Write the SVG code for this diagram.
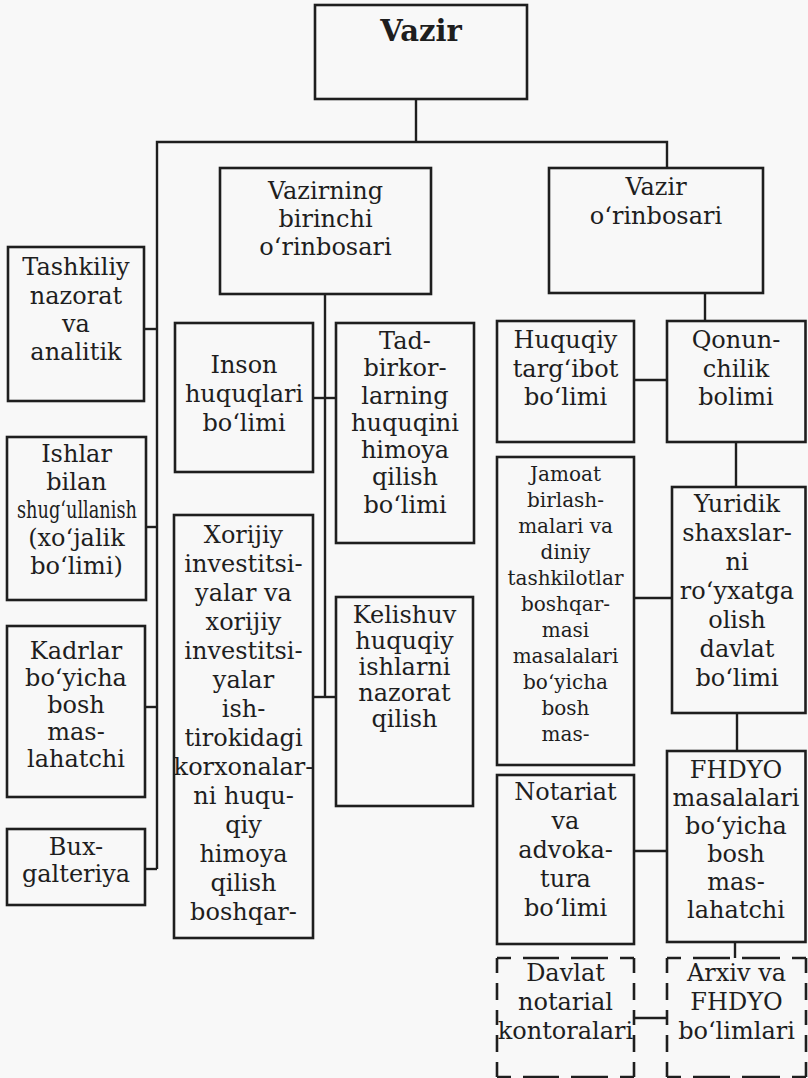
<svg xmlns="http://www.w3.org/2000/svg" width="808" height="1078" viewBox="0 0 808 1078">
  <style>
    .box { fill: none; stroke: #1e1e1e; stroke-width: 2.6; }
    .dash { fill: none; stroke: #1e1e1e; stroke-width: 2.6; }
    .conn { fill: none; stroke: #1e1e1e; stroke-width: 2.4; }
    text { font-family: "DejaVu Serif", "Liberation Serif", serif; font-size: 24px; fill: #1e1e1e; text-anchor: middle; }
    .small { font-size: 20px; }
    .head { font-weight: bold; font-size: 29px; }
  </style>
  <rect width="808" height="1078" fill="#f8f8f8"/>

  <!-- connectors -->
  <g id="connectors" class="conn">
    <path d="M416 99 V142"/>
    <path d="M157 869 V142 H667 V168"/>
    <path d="M145 869 H157"/>
    <path d="M144 329 H157"/>
    <path d="M146 527 H157"/>
    <path d="M145 707 H157"/>
    <path d="M325 294 V697"/>
    <path d="M313 398 H336"/>
    <path d="M313 697 H336"/>
    <path d="M705 293 V321"/>
    <path d="M634 380 H667"/>
    <path d="M736 442 V487"/>
    <path d="M634 598 H672"/>
    <path d="M737 713 V751"/>
    <path d="M634 851 H667"/>
    <path d="M735 942 V958"/>
    <path d="M634 1018 H667"/>
  </g>

  <!-- top level -->
  <g id="vazir">
    <rect class="box" x="315" y="5" width="212" height="94"/>
    <text class="head" x="421" y="41">Vazir</text>
  </g>

  <g id="birinchi-orinbosar">
    <rect class="box" x="220" y="168" width="211" height="126"/>
    <text x="325.5"><tspan x="325.5" y="199">Vazirning</tspan><tspan x="325.5" y="227">birinchi</tspan><tspan x="325.5" y="255">o‘rinbosari</tspan></text>
  </g>

  <g id="orinbosar">
    <rect class="box" x="549" y="168" width="214" height="125"/>
    <text x="656"><tspan x="656" y="195">Vazir</tspan><tspan x="656" y="224">o‘rinbosari</tspan></text>
  </g>

  <!-- left column -->
  <g id="tashkiliy">
    <rect class="box" x="8" y="247" width="136" height="154"/>
    <text x="76"><tspan x="76" y="275">Tashkiliy</tspan><tspan x="76" y="304">nazorat</tspan><tspan x="76" y="332">va</tspan><tspan x="76" y="360">analitik</tspan></text>
  </g>

  <g id="ishlar">
    <rect class="box" x="7" y="437" width="139" height="163"/>
    <text x="76.5"><tspan x="76.5" y="462">Ishlar</tspan><tspan x="76.5" y="490">bilan</tspan><tspan x="77" y="518" textLength="120" lengthAdjust="spacingAndGlyphs">shug‘ullanish</tspan><tspan x="76.5" y="546">(xo‘jalik</tspan><tspan x="76.5" y="574">bo‘limi)</tspan></text>
  </g>

  <g id="kadrlar">
    <rect class="box" x="7" y="626" width="138" height="171"/>
    <text x="76"><tspan x="76" y="659">Kadrlar</tspan><tspan x="76" y="686">bo‘yicha</tspan><tspan x="76" y="713">bosh</tspan><tspan x="76" y="740">mas-</tspan><tspan x="76" y="767">lahatchi</tspan></text>
  </g>

  <g id="buxgalteriya">
    <rect class="box" x="7" y="829" width="138" height="76"/>
    <text x="76"><tspan x="76" y="855">Bux-</tspan><tspan x="76" y="882">galteriya</tspan></text>
  </g>

  <!-- first deputy's branch -->
  <g id="inson">
    <rect class="box" x="175" y="323" width="138" height="149"/>
    <text x="244"><tspan x="244" y="373">Inson</tspan><tspan x="244" y="402">huquqlari</tspan><tspan x="244" y="431">bo‘limi</tspan></text>
  </g>

  <g id="xorijiy">
    <rect class="box" x="174" y="515" width="139" height="423"/>
    <text x="243.5"><tspan x="243.5" y="543">Xorijiy</tspan><tspan x="243.5" y="572">investitsi-</tspan><tspan x="243.5" y="601">yalar va</tspan><tspan x="243.5" y="630">xorijiy</tspan><tspan x="243.5" y="659">investitsi-</tspan><tspan x="243.5" y="688">yalar</tspan><tspan x="243.5" y="717">ish-</tspan><tspan x="243.5" y="746">tirokidagi</tspan><tspan x="243.5" y="775">korxonalar-</tspan><tspan x="243.5" y="804">ni huqu-</tspan><tspan x="243.5" y="833">qiy</tspan><tspan x="243.5" y="862">himoya</tspan><tspan x="243.5" y="891">qilish</tspan><tspan x="243.5" y="920">boshqar-</tspan></text>
  </g>

  <g id="tadbirkor">
    <rect class="box" x="336" y="323" width="138" height="220"/>
    <text x="405"><tspan x="405" y="349">Tad-</tspan><tspan x="405" y="376">birkor-</tspan><tspan x="405" y="404">larning</tspan><tspan x="405" y="431">huquqini</tspan><tspan x="405" y="458">himoya</tspan><tspan x="405" y="485">qilish</tspan><tspan x="405" y="513">bo‘limi</tspan></text>
  </g>

  <g id="kelishuv">
    <rect class="box" x="336" y="597" width="137" height="209"/>
    <text x="404.5"><tspan x="404.5" y="623">Kelishuv</tspan><tspan x="404.5" y="649">huquqiy</tspan><tspan x="404.5" y="675">ishlarni</tspan><tspan x="404.5" y="701">nazorat</tspan><tspan x="404.5" y="727">qilish</tspan></text>
  </g>

  <!-- deputy's branch -->
  <g id="huquqiy-targibot">
    <rect class="box" x="497" y="321" width="137" height="121"/>
    <text x="565.5"><tspan x="565.5" y="348">Huquqiy</tspan><tspan x="565.5" y="377">targ‘ibot</tspan><tspan x="565.5" y="405">bo‘limi</tspan></text>
  </g>

  <g id="qonunchilik">
    <rect class="box" x="667" y="321" width="138.5" height="121"/>
    <text x="736"><tspan x="736" y="348">Qonun-</tspan><tspan x="736" y="377">chilik</tspan><tspan x="736" y="405">bolimi</tspan></text>
  </g>

  <g id="jamoat">
    <rect class="box" x="497" y="457" width="137" height="308"/>
    <text class="small" x="565.5"><tspan x="565.5" y="481">Jamoat</tspan><tspan x="565.5" y="507">birlash-</tspan><tspan x="565.5" y="533">malari va</tspan><tspan x="565.5" y="559">diniy</tspan><tspan x="565.5" y="585">tashkilotlar</tspan><tspan x="565.5" y="611">boshqar-</tspan><tspan x="565.5" y="637">masi</tspan><tspan x="565.5" y="663">masalalari</tspan><tspan x="565.5" y="689">bo‘yicha</tspan><tspan x="565.5" y="715">bosh</tspan><tspan x="565.5" y="741">mas-</tspan></text>
  </g>

  <g id="yuridik">
    <rect class="box" x="672" y="487" width="133.5" height="226"/>
    <text x="737"><tspan x="737" y="512">Yuridik</tspan><tspan x="737" y="541">shaxslar-</tspan><tspan x="737" y="570">ni</tspan><tspan x="737" y="599">ro‘yxatga</tspan><tspan x="737" y="628">olish</tspan><tspan x="737" y="657">davlat</tspan><tspan x="737" y="686">bo‘limi</tspan></text>
  </g>

  <g id="notariat">
    <rect class="box" x="497" y="775" width="137" height="169"/>
    <text x="565.5"><tspan x="565.5" y="800">Notariat</tspan><tspan x="565.5" y="829">va</tspan><tspan x="565.5" y="858">advoka-</tspan><tspan x="565.5" y="887">tura</tspan><tspan x="565.5" y="916">bo‘limi</tspan></text>
  </g>

  <g id="fhdyo">
    <rect class="box" x="667" y="751" width="138.5" height="191"/>
    <text x="736"><tspan x="736" y="778">FHDYO</tspan><tspan x="736" y="806">masalalari</tspan><tspan x="736" y="834">bo‘yicha</tspan><tspan x="736" y="862">bosh</tspan><tspan x="736" y="890">mas-</tspan><tspan x="736" y="918">lahatchi</tspan></text>
  </g>

  <!-- subordinate offices, dashed outlines -->
  <g id="davlat-notarial">
    <path class="dash" stroke-dasharray="14 12 36 12 37 12 14" d="M497 958 H634"/>
    <path class="dash" stroke-dasharray="14 12 36 12 37 12 14" d="M497 1077 H634"/>
    <path class="dash" stroke-dasharray="15 10 17 10 15 10 17 10 15" d="M497 958 V1077"/>
    <path class="dash" stroke-dasharray="15 10 17 10 15 10 17 10 15" d="M634 958 V1077"/>
    <text x="565.5"><tspan x="565.5" y="981">Davlat</tspan><tspan x="565.5" y="1010">notarial</tspan><tspan x="565.5" y="1039">kontoralari</tspan></text>
  </g>

  <g id="arxiv">
    <path class="dash" stroke-dasharray="14 12 37 12 38 12 14" d="M667 958 H806"/>
    <path class="dash" stroke-dasharray="14 12 37 12 38 12 14" d="M667 1077 H806"/>
    <path class="dash" stroke-dasharray="15 10 17 10 15 10 17 10 15" d="M667 958 V1077"/>
    <path class="dash" stroke-dasharray="15 10 17 10 15 10 17 10 15" d="M806 958 V1077"/>
    <text x="736.5"><tspan x="736.5" y="981">Arxiv va</tspan><tspan x="736.5" y="1010">FHDYO</tspan><tspan x="736.5" y="1039">bo‘limlari</tspan></text>
  </g>
</svg>
